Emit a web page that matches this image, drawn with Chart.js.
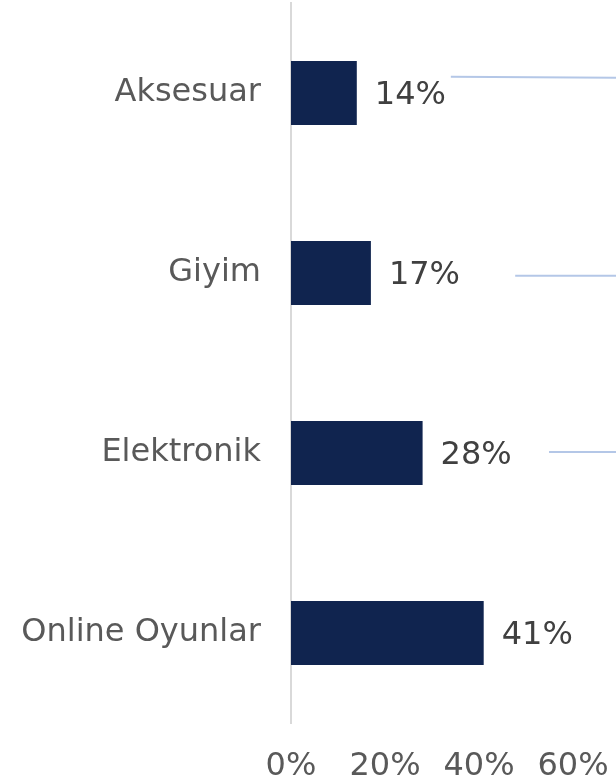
<!DOCTYPE html>
<html>
<head>
<meta charset="utf-8">
<script src="https://cdn.jsdelivr.net/npm/chart.js@4.4.1/dist/chart.umd.min.js"></script>
<style>
  html, body { margin: 0; padding: 0; background: #ffffff; }
  #wrap { width: 616px; height: 783px; position: relative; }
</style>
</head>
<body>
<div id="wrap"><canvas id="c"></canvas></div>
<script>
const categories = ["Aksesuar", "Giyim", "Elektronik", "Online Oyunlar"];
const shares = [14, 17, 28, 41];
const tickValues = [0, 20, 40, 60];
// decorative leader lines (start value in %, vertical offset in category units)
const leaderStart = [34, 47.7, 54.9, null];
const leaderOffset = [-0.09, 0.015, -0.005, 0];

const FONT = "'DejaVu Sans', Verdana, sans-serif";

const labelPlugin = {
  id: 'valueLabels',
  afterDatasetsDraw(chart) {
    const ctx = chart.ctx;
    const meta = chart.getDatasetMeta(0);
    const xs = chart.scales.x, ys = chart.scales.y;
    ctx.save();
    // leader lines
    ctx.strokeStyle = '#b4c7e7';
    ctx.lineWidth = 2;
    leaderStart.forEach((v, i) => {
      if (v === null) return;
      const y = ys.getPixelForValue(i + leaderOffset[i]);
      ctx.beginPath();
      ctx.moveTo(xs.getPixelForValue(v), y);
      ctx.lineTo(chart.width, y + (i === 0 ? 1 : 0));
      ctx.stroke();
    });
    // value labels
    ctx.font = '32px ' + FONT;
    ctx.fillStyle = '#404040';
    ctx.textAlign = 'left';
    ctx.textBaseline = 'middle';
    meta.data.forEach((bar, i) => {
      ctx.fillText(shares[i] + '%', bar.x + 18, bar.y + 3);
    });
    ctx.restore();
  }
};

const noPad = s => { s.paddingTop = 0; s.paddingBottom = 0; s.paddingLeft = 0; s.paddingRight = 0; };

new Chart(document.getElementById('c'), {
  type: 'bar',
  data: {
    labels: categories,
    datasets: [{
      data: shares,
      backgroundColor: '#10244f',
      borderWidth: 0,
      barPercentage: 0.356,
      categoryPercentage: 1.0
    }]
  },
  options: {
    indexAxis: 'y',
    responsive: true,
    maintainAspectRatio: false,
    animation: false,
    layout: { autoPadding: false, padding: { top: 3, right: 43, bottom: 0, left: 0 } },
    plugins: { legend: { display: false }, tooltip: { enabled: false } },
    scales: {
      x: {
        min: 0, max: 60,
        afterBuildTicks: s => { s.ticks = tickValues.map(v => ({ value: v })); },
        afterFit: s => { s.height = 60; noPad(s); },
        grid: { display: false, drawTicks: false },
        border: { display: false },
        ticks: {
          callback: v => v + '%',
          font: { family: FONT, size: 32 },
          color: '#595959',
          padding: 24,
          maxRotation: 0,
          autoSkip: false
        }
      },
      y: {
        afterFit: s => { s.width = 291; noPad(s); },
        grid: { display: false, drawTicks: false },
        border: { display: true, color: '#d9d9d9', width: 2 },
        ticks: {
          font: { family: FONT, size: 32 },
          color: '#595959',
          padding: 30
        }
      }
    }
  },
  plugins: [labelPlugin]
});
</script>
</body>
</html>
